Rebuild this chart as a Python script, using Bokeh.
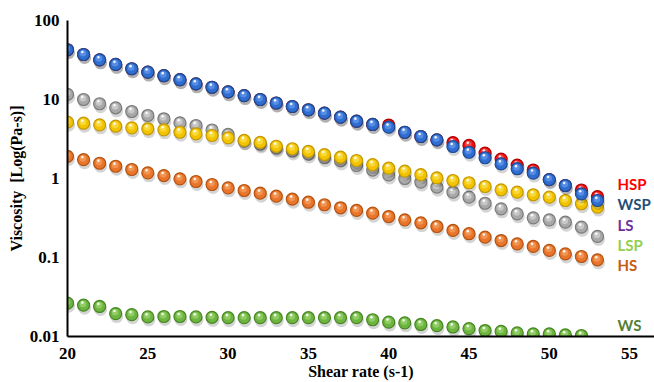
from bokeh.plotting import figure
from bokeh.models import Range1d, FixedTicker, ColumnDataSource, CustomJSTransform, CustomJSTickFormatter
from bokeh.transform import dodge, transform
from bokeh.core.properties import value
from bokeh.embed import file_html
from bokeh.resources import INLINE

# ---- data ----
SHEAR = [20, 21, 22, 23, 24, 25, 26, 27, 28, 29, 30, 31, 32, 33, 34, 35, 36,
         37, 38, 39, 40, 41, 42, 43, 44, 45, 46, 47, 48, 49, 50, 51, 52, 53]
SHEAR_WS = SHEAR[:-1]

WSP = [42.6, 37.1, 31.8, 27.8, 24.5, 22.2, 20.0, 17.8, 15.8, 14.3, 12.5, 11.2,
       10.0, 9.03, 8.15, 7.41, 6.71, 5.97, 5.31, 4.83, 4.46, 3.85, 3.40, 3.09,
       2.54, 2.15, 1.83, 1.53, 1.33, 1.17, 0.97, 0.815, 0.64, 0.527]
HSP = [42.6, 37.1, 31.8, 27.8, 24.5, 22.2, 20.0, 17.8, 15.8, 14.3, 12.5, 11.2,
       10.0, 9.03, 8.15, 7.41, 6.71, 5.97, 5.31, 4.83, 4.75, 3.85, 3.40, 3.09,
       2.85, 2.62, 2.10, 1.76, 1.48, 1.28, 0.97, 0.815, 0.715, 0.590]
LS = [11.6, 10.0, 8.83, 7.85, 7.05, 6.27, 5.70, 5.07, 4.69, 4.11, 3.61, 2.98,
      2.73, 2.43, 2.23, 2.04, 1.83, 1.67, 1.46, 1.28, 1.11, 1.0, 0.90, 0.776,
      0.671, 0.580, 0.486, 0.413, 0.357, 0.318, 0.300, 0.280, 0.242, 0.185]
LSP = [5.16, 5.01, 4.78, 4.59, 4.38, 4.26, 4.13, 3.85, 3.68, 3.50, 3.27, 3.03,
       2.86, 2.56, 2.38, 2.20, 2.01, 1.86, 1.69, 1.50, 1.35, 1.24, 1.12, 1.02,
       0.944, 0.883, 0.792, 0.719, 0.671, 0.622, 0.580, 0.527, 0.479, 0.434]
HS = [1.91, 1.73, 1.56, 1.43, 1.30, 1.18, 1.09, 0.99, 0.916, 0.839, 0.762, 0.705,
      0.652, 0.597, 0.547, 0.501, 0.465, 0.426, 0.394, 0.364, 0.330, 0.300, 0.275,
      0.247, 0.220, 0.200, 0.181, 0.164, 0.149, 0.138, 0.123, 0.111, 0.103, 0.0935]
WS = [0.0264, 0.0249, 0.0240, 0.0195, 0.0189, 0.0177, 0.0179, 0.0179, 0.0177,
      0.0175, 0.0173, 0.0173, 0.0173, 0.0173, 0.0173, 0.0173, 0.0173, 0.0173,
      0.0173, 0.0163, 0.0152, 0.0149, 0.0142, 0.0137, 0.0132, 0.0126, 0.0119,
      0.0116, 0.0111, 0.0108, 0.0108, 0.0105, 0.0103]

LABELS = ["HSP", "WSP", "LS", "LSP", "HS", "WS"]
LABEL_X = [54.25, 54.25, 54.25, 54.25, 54.25, 54.25]
LABEL_Y = [0.857, 0.479, 0.259, 0.146, 0.0813, 0.0138]
LABEL_COLORS = ["#FF0000", "#1F4E79", "#7030A0", "#92D050", "#C55A11", "#538135"]

X_TICKS = [20, 25, 30, 35, 40, 45, 50, 55]
Y_TICKS = [0.01, 0.1, 1, 10, 100]

# ---- figure ----
W, H = 654, 382
LEFT, TOP, BOTTOM = 67, 20, 44
X0, X1 = 20, 56.55
p = figure(width=W, height=H, output_backend="svg", toolbar_location=None,
           y_axis_type="log", x_range=Range1d(X0, X1), y_range=Range1d(0.01, 100))
p.min_border_left = LEFT
p.min_border_right = 0
p.min_border_top = TOP
p.min_border_bottom = BOTTOM
p.outline_line_color = None
p.xgrid.visible = False
p.ygrid.visible = False
p.background_fill_color = "white"
p.border_fill_color = "white"

PX_X = (X1 - X0) / (W - LEFT)          # data units per pixel (x)
DECADE_PX = (H - TOP - BOTTOM) / 4.0    # pixels per decade (y)


def yshift(px):
    f = 10 ** (px / DECADE_PX)
    return CustomJSTransform(args=dict(f=f), func="return x*f", v_func="return xs.map(v => v*f)")


def balls(xs, ys, mid, dark, light):
    src = ColumnDataSource(dict(x=xs, y=ys))
    # drop shadow
    p.scatter(x=dodge("x", 1.0 * PX_X, range=p.x_range), y=transform("y", yshift(-3.0)),
              source=src, size=13, fill_color="#000000", fill_alpha=0.17, line_color=None)
    # ball body
    p.scatter(x="x", y="y", source=src, size=12, fill_color=mid, line_color=dark,
              line_width=1.2)
    # soft light
    p.scatter(x=dodge("x", -0.6 * PX_X, range=p.x_range), y=transform("y", yshift(1.3)),
              source=src, size=6.5, fill_color=light, fill_alpha=0.55, line_color=None)
    # glint
    p.scatter(x=dodge("x", -1.2 * PX_X, range=p.x_range), y=transform("y", yshift(2.6)),
              source=src, size=2.6, fill_color="white", fill_alpha=0.9, line_color=None)


balls(SHEAR, HSP, "#F01010", "#B00000", "#FF7070")
balls(SHEAR, LS, "#A8A8A8", "#7A7A7A", "#E2E2E2")
balls(SHEAR, LSP, "#F2C400", "#C49800", "#FFE970")
balls(SHEAR, HS, "#E8752B", "#B5520F", "#F8AE72")
balls(SHEAR_WS, WS, "#6DB540", "#468722", "#AEE084")
balls(SHEAR, WSP, "#2F6ED0", "#1C4A98", "#78A8F2")

# series labels
lab = ColumnDataSource(dict(x=LABEL_X, y=LABEL_Y, t=LABELS, c=LABEL_COLORS))
p.text(x="x", y="y", text="t", source=lab, text_color="c", text_font=value("Lato"),
       text_font_style="bold", text_font_size="15px", text_baseline="middle",
       text_align="left")

# axes
for ax in (p.xaxis[0], p.yaxis[0]):
    ax.axis_line_color = "black"
    ax.axis_line_width = 2
    ax.major_tick_out = 0
    ax.major_tick_in = 0
    ax.minor_tick_out = 0
    ax.minor_tick_in = 0
    ax.major_label_text_font = "Liberation Serif"
    ax.major_label_text_font_style = "bold"
    ax.major_label_text_font_size = "17px"
    ax.major_label_text_color = "black"
    ax.axis_label_text_font = "Liberation Serif"
    ax.axis_label_text_font_style = "bold"
    ax.axis_label_text_font_size = "16px"
    ax.axis_label_text_color = "black"

p.xaxis.ticker = FixedTicker(ticks=X_TICKS)
p.yaxis.ticker = FixedTicker(ticks=Y_TICKS, minor_ticks=[])
p.yaxis.formatter = CustomJSTickFormatter(code="return tick.toString();")
p.xaxis.axis_label = "Shear rate (s-1)"
p.yaxis.axis_label = "Viscosity\u00a0\u00a0[Log(Pa-s)]"
p.xaxis.major_label_standoff = 11
p.xaxis.axis_label_standoff = 1
p.yaxis.major_label_standoff = 8
p.yaxis.axis_label_standoff = 2

open("out.html", "w").write(file_html(p, INLINE))
